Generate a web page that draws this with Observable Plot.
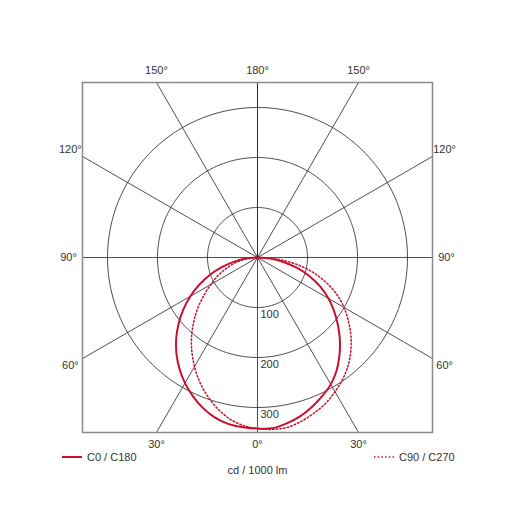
<!DOCTYPE html>
<html>
<head>
<meta charset="utf-8">
<script src="https://cdn.jsdelivr.net/npm/d3@7"></script>
<script src="https://cdn.jsdelivr.net/npm/@observablehq/plot@0.6"></script>
<style>
  body { margin: 0; background: #fff; }
  #wrap { position: relative; width: 515px; height: 515px; font-family: "Liberation Sans", Arial, sans-serif; color: #333; }
  .leg { position: absolute; font-size: 11px; line-height: 12px; display: flex; align-items: center; }
  .leg svg { margin-right: 5px; }
  #cap { position: absolute; left: 0; width: 515px; text-align: center; font-size: 11px; top: 464px; }
</style>
</head>
<body>
<div id="wrap">
  <div id="chart"></div>
  <div class="leg" style="left:62px; top:451px;"><svg width="20" height="6"><line x1="0" y1="3" x2="20" y2="3" stroke="#c8102e" stroke-width="2"/></svg>C0 / C180</div>
  <div class="leg" style="left:374px; top:451px;"><svg width="20" height="6"><line x1="0" y1="3" x2="20" y2="3" stroke="#c8102e" stroke-width="1.5" stroke-dasharray="1.5,2.2"/></svg>C90 / C270</div>
  <div id="cap">cd / 1000 lm</div>
</div>
<script>
// gamma angles (degrees from nadir)
const gammas = [0,5,10,15,20,25,30,35,40,45,50,55,60,65,70,75,80,85,90];
// intensities in cd / 1000 lm
const c0   = [342,343,337,329,318,306,293,276,255,233,210,187,164,139,112,83,54,26,0];
const c180 = [342,341,338,331,320,306,290,272,252,230,206,181,155,128,101,74,47,23,0];
const c90  = [342,345,345,339,331,322,310,297,282,264,244,222,200,175,146,115,80,41,0];
const c270 = [342,337,327,312,294,274,252,229,205,180,155,130,108,88,69,51,34,17,0];
// grid
const ringValues = [100, 200, 300];
const spokeAngles = [-180,-150,-120,-90,-60,-30,0,30,60,90,120,150,180];
const angleLabels = [
  {a:-150, t:"150°"}, {a:180, t:"180°"}, {a:150, t:"150°"},
  {a:-120, t:"120°"}, {a:-90, t:"90°"}, {a:-60, t:"60°"},
  {a:120, t:"120°"}, {a:90, t:"90°"}, {a:60, t:"60°"},
  {a:-30, t:"30°"}, {a:0, t:"0°"}, {a:30, t:"30°"}
];
const LIM = 350;
const rad = d => d * Math.PI / 180;

function curve(right, left, name) {
  const pts = [];
  for (let i = gammas.length - 1; i >= 0; i--) {
    const g = rad(gammas[i]);
    pts.push({series: name, x: -left[i] * Math.sin(g), y: -left[i] * Math.cos(g)});
  }
  for (let i = 1; i < gammas.length; i++) {
    const g = rad(gammas[i]);
    pts.push({series: name, x: right[i] * Math.sin(g), y: -right[i] * Math.cos(g)});
  }
  return pts;
}
const solid = curve(c0, c180, "C0 / C180");
const dotted = curve(c90, c270, "C90 / C270");

const rings = ringValues.flatMap(r => d3.range(0, 361, 2).map(a => ({r, x: r * Math.sin(rad(a)), y: r * Math.cos(rad(a))})));

function edge(a) {
  const s = Math.sin(rad(a)), c = -Math.cos(rad(a));
  const t = LIM / Math.max(Math.abs(s), Math.abs(c));
  return {x: s * t, y: c * t, s, c};
}
const spokes = spokeAngles.map(a => ({a, ...edge(a)}));

const labels = angleLabels.map(d => {
  const e = edge(d.a);
  const side = Math.abs(e.x) >= LIM - 1e-6 && Math.abs(e.y) < LIM - 1e-6;
  if (side) {
    return {t: d.t, x: e.x + 28 * e.s, y: e.y + 28 * e.c, dy: 0};
  }
  return {t: d.t, x: e.x, y: e.y, dy: e.y > 0 ? -12 : 12};
});

const chart = Plot.plot({
  width: 515, height: 450,
  marginTop: 82, marginLeft: 82, marginRight: 83, marginBottom: 18,
  x: {domain: [-LIM, LIM], axis: null},
  y: {domain: [-LIM, LIM], axis: null},
  style: {fontFamily: "Liberation Sans, Arial, sans-serif", fontSize: "11px", color: "#333", overflow: "visible", background: "#fff"},
  marks: [
    Plot.line(rings, {x: "x", y: "y", z: "r", stroke: "#222", strokeWidth: 0.8}),
    Plot.link(spokes, {x1: 0, y1: 0, x2: "x", y2: "y", stroke: "#222", strokeWidth: 0.8}),
    Plot.frame({stroke: "#8a8a8a", strokeWidth: 1.5}),
    Plot.line(dotted, {x: "x", y: "y", stroke: "#c8102e", strokeWidth: 1.5, strokeDasharray: "1.5,2.2", curve: "catmull-rom"}),
    Plot.line(solid, {x: "x", y: "y", stroke: "#c8102e", strokeWidth: 2, curve: "catmull-rom"}),
    Plot.text(ringValues, {x: 0, y: d => -d, text: d => String(d), textAnchor: "start", dx: 3, dy: 7, fill: "#333"}),
    Plot.text(labels.filter(d => d.dy === 0), {x: "x", y: "y", text: "t", fill: "#333"}),
    Plot.text(labels.filter(d => d.dy < 0), {x: "x", y: "y", text: "t", dy: -12, fill: "#333"}),
    Plot.text(labels.filter(d => d.dy > 0), {x: "x", y: "y", text: "t", dy: 12, fill: "#333"})
  ]
});
document.getElementById("chart").appendChild(chart);
</script>
</body>
</html>
